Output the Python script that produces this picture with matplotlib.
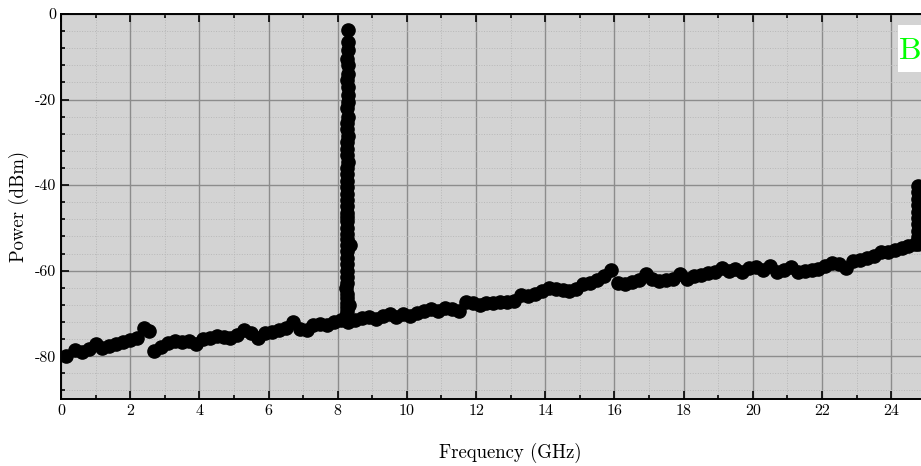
import matplotlib
matplotlib.use('Agg')
import matplotlib.pyplot as plt
from matplotlib.patches import Rectangle
from matplotlib.ticker import MultipleLocator

plt.rcParams['font.family'] = ['cmr10', 'DejaVu Serif']
plt.rcParams['axes.unicode_minus'] = False
plt.rcParams['mathtext.fontset'] = 'cm'

# background sweep (GHz, dBm)
base_freq = [0.15, 0.4, 0.6, 0.8, 1.0, 1.2, 1.4, 1.6, 1.8, 2.0, 2.2, 2.4, 2.55,
             2.7, 2.9, 3.1, 3.3, 3.5, 3.7, 3.9, 4.1, 4.3, 4.5, 4.7, 4.9, 5.1,
             5.3, 5.5, 5.7, 5.9, 6.1, 6.3, 6.5, 6.7, 6.9, 7.1, 7.3, 7.5, 7.7,
             7.9, 8.1, 8.3, 8.5, 8.7, 8.9, 9.1, 9.3, 9.5, 9.7, 9.9, 10.1, 10.3,
             10.5, 10.7, 10.9, 11.1, 11.3, 11.5, 11.7, 11.9, 12.1, 12.3, 12.5,
             12.7, 12.9, 13.1, 13.3, 13.5, 13.7, 13.9, 14.1, 14.3, 14.5, 14.7,
             14.9, 15.1, 15.3, 15.5, 15.7, 15.9, 16.1, 16.3, 16.5, 16.7, 16.9,
             17.1, 17.3, 17.5, 17.7, 17.9, 18.1, 18.3, 18.5, 18.7, 18.9, 19.1,
             19.3, 19.5, 19.7, 19.9, 20.1, 20.3, 20.5, 20.7, 20.9, 21.1, 21.3,
             21.5, 21.7, 21.9, 22.1, 22.3, 22.5, 22.7, 22.9, 23.1, 23.3, 23.5,
             23.7, 23.9, 24.1, 24.3, 24.5, 24.7]
base_power = [-80.0, -78.6, -79.0, -78.4, -77.2, -78.0, -77.7, -77.2, -76.7,
              -76.3, -75.8, -73.5, -74.1, -78.8, -77.9, -77.0, -76.5, -76.7,
              -76.5, -77.2, -76.0, -75.8, -75.3, -75.6, -75.8, -75.1, -73.9,
              -74.6, -75.8, -74.6, -74.4, -73.9, -73.5, -72.0, -73.7, -73.9,
              -72.7, -72.5, -72.7, -72.0, -71.6, -71.6, -71.6, -71.1, -70.9,
              -71.3, -70.6, -70.2, -70.9, -70.2, -70.6, -70.0, -69.5, -69.0,
              -69.5, -68.8, -69.0, -69.5, -67.4, -67.6, -68.1, -67.6, -67.6,
              -67.4, -67.4, -67.1, -65.7, -66.0, -65.5, -64.8, -64.1, -64.3,
              -64.6, -64.8, -64.3, -63.2, -62.9, -62.2, -61.3, -59.9, -62.9,
              -63.2, -62.7, -62.2, -60.8, -62.0, -62.5, -62.2, -62.0, -60.8,
              -62.0, -61.3, -61.1, -60.6, -60.4, -59.4, -60.1, -59.6, -60.4,
              -59.4, -59.2, -59.9, -58.9, -60.4, -59.9, -59.2, -60.4, -60.1,
              -59.9, -59.6, -58.9, -58.2, -58.5, -59.4, -57.8, -57.5, -57.1,
              -56.6, -55.7, -55.7, -55.2, -54.7, -54.3, -53.8]

# carrier near 8.3 GHz
spike_freq = [8.29, 8.30, 8.29, 8.28, 8.30, 8.29, 8.28, 8.29, 8.30, 8.29,
              8.28, 8.29, 8.27, 8.28, 8.29, 8.28, 8.27, 8.28, 8.29, 8.27,
              8.26, 8.27, 8.28, 8.27, 8.26, 8.27, 8.28, 8.27, 8.26, 8.27,
              8.28, 8.27, 8.26, 8.27, 8.26, 8.27, 8.26, 8.27, 8.26, 8.25,
              8.26, 8.27, 8.36, 8.26, 8.27, 8.26, 8.25, 8.26, 8.34, 8.30]
spike_power = [-3.8, -6.5, -8.5, -10.5, -12.0, -14.0, -15.5, -17.0, -19.0,
               -20.5, -22.0, -24.0, -25.5, -27.0, -28.5, -30.0, -31.5, -33.0,
               -34.5, -36.0, -37.5, -39.0, -40.5, -42.0, -43.5, -45.0, -46.5,
               -47.5, -48.5, -50.0, -51.5, -52.5, -54.0, -55.5, -57.0, -58.5,
               -60.0, -61.5, -63.0, -64.0, -65.5, -66.5, -54.0, -67.5, -68.5,
               -69.5, -70.5, -71.0, -68.0, -72.0]

# rise at the upper edge of the sweep
edge_freq = [24.78, 24.79, 24.78, 24.79, 24.78, 24.79, 24.78, 24.79, 24.78,
             24.79]
edge_power = [-40.2, -41.7, -43.2, -44.7, -46.2, -47.7, -49.2, -50.7, -52.2,
              -53.7]

fig = plt.figure(figsize=(9.21, 4.66), dpi=100)
ax = fig.add_axes([0.0662, 0.1438, 0.9577, 0.8262])
ax.set_facecolor('#d3d3d3')

mk = dict(ls='none', marker='o', ms=9.5, color='black', mec='black')
ax.plot(base_freq, base_power, **mk)
ax.plot(spike_freq, spike_power, **mk)
ax.plot(edge_freq, edge_power, **mk)

ax.set_xlim(0, 25.5)
ax.set_ylim(-90, 0)
ax.xaxis.set_major_locator(MultipleLocator(2))
ax.xaxis.set_minor_locator(MultipleLocator(1))
ax.yaxis.set_major_locator(MultipleLocator(20))
ax.yaxis.set_minor_locator(MultipleLocator(4))

ax.grid(which='major', color='#8c8c8c', lw=1.0, ls='-')
ax.grid(which='minor', color='#b8b8b8', lw=0.7, ls=':')
ax.set_axisbelow(True)

ax.tick_params(which='both', direction='in', top=True, right=True,
               labelsize=11.5, width=1.2)
ax.tick_params(which='major', length=6)
ax.tick_params(which='minor', length=3)
for s in ax.spines.values():
    s.set_linewidth(1.4)

ax.set_xlabel('Frequency (GHz)', fontsize=13.5, labelpad=18)
ax.xaxis.set_label_coords(0.51, -0.115)
ax.set_ylabel('Power (dBm)', fontsize=13.5, labelpad=4)

# panel letter on a white tab at the top right
fig.patches.append(Rectangle((0.975, 0.8455), 0.03, 0.101,
                             transform=fig.transFigure, facecolor='white',
                             edgecolor='none', zorder=5))
fig.text(0.9765, 0.891, 'B', fontsize=23, color='lime', va='center',
         ha='left', zorder=6)

fig.savefig('out.png', dpi=100)
